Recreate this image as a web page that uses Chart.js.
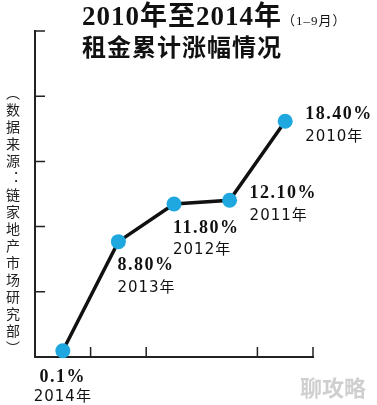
<!DOCTYPE html>
<html>
<head>
<meta charset="utf-8">
<script src="https://cdn.jsdelivr.net/npm/chart.js@4"></script>
<style>
  html, body { margin: 0; padding: 0; background: #fff; }
  #wrap { position: relative; width: 377px; height: 405px; overflow: hidden; }
  canvas { position: absolute; left: 0; top: 0; }
  .t1 { position: absolute; left: 82px; top: 3px; font: bold 27px "Liberation Serif", "Noto Sans CJK SC"; line-height: 27px; letter-spacing: 1px; color: #111; white-space: nowrap; }
  .t1 small { font: 13px "Liberation Serif", "Noto Sans CJK SC"; letter-spacing: 1px; }
  .t2 { position: absolute; left: 82px; top: 34px; font: bold 24px "Noto Sans CJK SC"; line-height: 24px; letter-spacing: 1px; color: #111; white-space: nowrap; }
  .src { position: absolute; left: 3px; top: 86px; writing-mode: vertical-rl; font: 14px "Noto Sans CJK SC"; letter-spacing: 3px; color: #222; }
  .wm { position: absolute; left: 300px; top: 370px; font: bold 22px "Noto Sans CJK SC"; color: #cfcfcf; }
</style>
</head>
<body>
<div id="wrap">
  <canvas id="chart" width="377" height="405"></canvas>
  <div class="t1">2010年至2014年<small>（1–9月）</small></div>
  <div class="t2">租金累计涨幅情况</div>
  <div class="src">（数据来源：链家地产市场研究部）</div>
  <div class="wm">聊攻略</div>
</div>
<script>
// data
const years = ['2014年', '2013年', '2012年', '2011年', '2010年'];
const rentRise = [0.1, 8.8, 11.8, 12.1, 18.4];
const rentLabels = ['0.1%', '8.80%', '11.80%', '12.10%', '18.40%'];

// axis range and tick count
const yMin = -0.4;
const yMax = 25.6;
const yDivisions = 5;

// where each value label sits next to its point
const labelPlace = ['center', 'below', 'below', 'right', 'right'];

// short inward tick marks on both axes
const innerTicks = {
  id: 'innerTicks',
  afterDraw(chart) {
    const ctx = chart.ctx;
    const area = chart.chartArea;
    const x = chart.scales.x;
    const y = chart.scales.y;
    ctx.save();
    ctx.strokeStyle = '#222';
    ctx.lineWidth = 1.5;
    ctx.beginPath();
    // x: category boundaries (the one between 2012 and 2011 is not drawn)
    for (let i = 1; i <= years.length; i++) {
      if (i === 3) continue;
      const px = x.getPixelForValue(i - 0.5);
      ctx.moveTo(px, area.bottom);
      ctx.lineTo(px, area.bottom - 10);
    }
    // y: evenly spaced ticks
    y.ticks.forEach(t => {
      if (t.value <= yMin) return;
      const py = y.getPixelForValue(t.value);
      ctx.moveTo(area.left, py);
      ctx.lineTo(area.left + 10, py);
    });
    ctx.stroke();
    ctx.restore();
  }
};

// two-line value labels: percent and year
const pointLabels = {
  id: 'pointLabels',
  afterDatasetsDraw(chart) {
    const ctx = chart.ctx;
    const meta = chart.getDatasetMeta(0);
    ctx.save();
    ctx.fillStyle = '#111';
    ctx.textBaseline = 'middle';
    meta.data.forEach((pt, i) => {
      const place = labelPlace[i];
      let lx = pt.x, y1 = pt.y, y2 = pt.y, align = 'left';
      if (place === 'center') { align = 'center'; y1 += 27; y2 += 46; }
      else if (place === 'below') { lx -= 1; y1 += 24; y2 += 46; }
      else { lx += 20; y1 -= 7; y2 += 16; }
      ctx.textAlign = align;
      ctx.font = 'bold 18px "Liberation Serif", "Noto Sans CJK SC"';
      ctx.letterSpacing = '1.5px';
      ctx.fillText(rentLabels[i], lx, y1);
      ctx.font = '15px "DejaVu Sans", "Noto Sans CJK SC"';
      ctx.letterSpacing = '1px';
      ctx.fillText(years[i], lx, y2);
    });
    ctx.restore();
  }
};

new Chart(document.getElementById('chart'), {
  type: 'line',
  data: {
    labels: years,
    datasets: [{
      data: rentRise,
      borderColor: '#111',
      borderWidth: 3.5,
      pointRadius: 7.5,
      pointBackgroundColor: '#1fa8e0',
      pointBorderWidth: 0,
      tension: 0,
      clip: false
    }]
  },
  options: {
    responsive: false,
    animation: false,
    layout: { padding: { left: 35, top: 31, right: 64, bottom: 48 } },
    plugins: { legend: { display: false }, tooltip: { enabled: false } },
    scales: {
      x: {
        offset: true,
        grid: { display: false, drawTicks: false },
        ticks: { display: false },
        border: { display: true, color: '#222', width: 2 }
      },
      y: {
        min: yMin,
        max: yMax,
        afterBuildTicks(scale) {
          const step = (yMax - yMin) / yDivisions;
          scale.ticks = [];
          for (let k = 0; k <= yDivisions; k++) scale.ticks.push({ value: yMin + k * step });
        },
        grid: { display: false, drawTicks: false },
        ticks: { display: false },
        border: { display: true, color: '#222', width: 2 }
      }
    }
  },
  plugins: [innerTicks, pointLabels]
});
</script>
</body>
</html>
